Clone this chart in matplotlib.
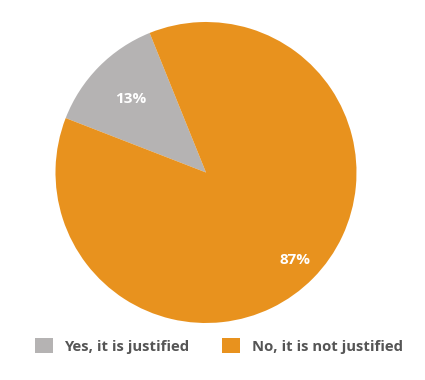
import numpy as np
import matplotlib
matplotlib.use("Agg")
import matplotlib.pyplot as plt
from matplotlib.patches import Patch

labels = ["Yes, it is justified", "No, it is not justified"]
values = [13, 87]
colors = ["#b5b3b3", "#e8921e"]

plt.rcParams['font.family'] = ['Open Sans', 'DejaVu Sans']

fig = plt.figure(figsize=(4.25, 3.8), dpi=100)
ax = fig.add_axes([55 / 425, 57 / 380, 302 / 425, 301 / 380])

wedges, _ = ax.pie(values, colors=colors, startangle=112, counterclock=True,
                   radius=1, wedgeprops=dict(linewidth=0))
ax.set_xlim(-1, 1)
ax.set_ylim(-1, 1)
ax.set_aspect('equal')
ax.axis('off')

# percentage labels at different distances, like the original
dists = [0.70, 0.83]
for w, v, d in zip(wedges, values, dists):
    mid = np.deg2rad((w.theta1 + w.theta2) / 2)
    ax.text(d * np.cos(mid), d * np.sin(mid), f"{v}%", ha='center', va='center',
            color='white', fontsize=11, fontweight='bold')

handles = [Patch(facecolor=c, edgecolor='none') for c in colors]
fig.legend(handles, labels, loc='center', bbox_to_anchor=(0.515, 1 - 346 / 380),
           ncol=2, frameon=False, handlelength=1.2, handleheight=1.2,
           handletextpad=0.8, columnspacing=2.2, labelcolor='#555555',
           prop={'weight': 'bold', 'size': 10.7})

fig.savefig("out.png", dpi=100)
